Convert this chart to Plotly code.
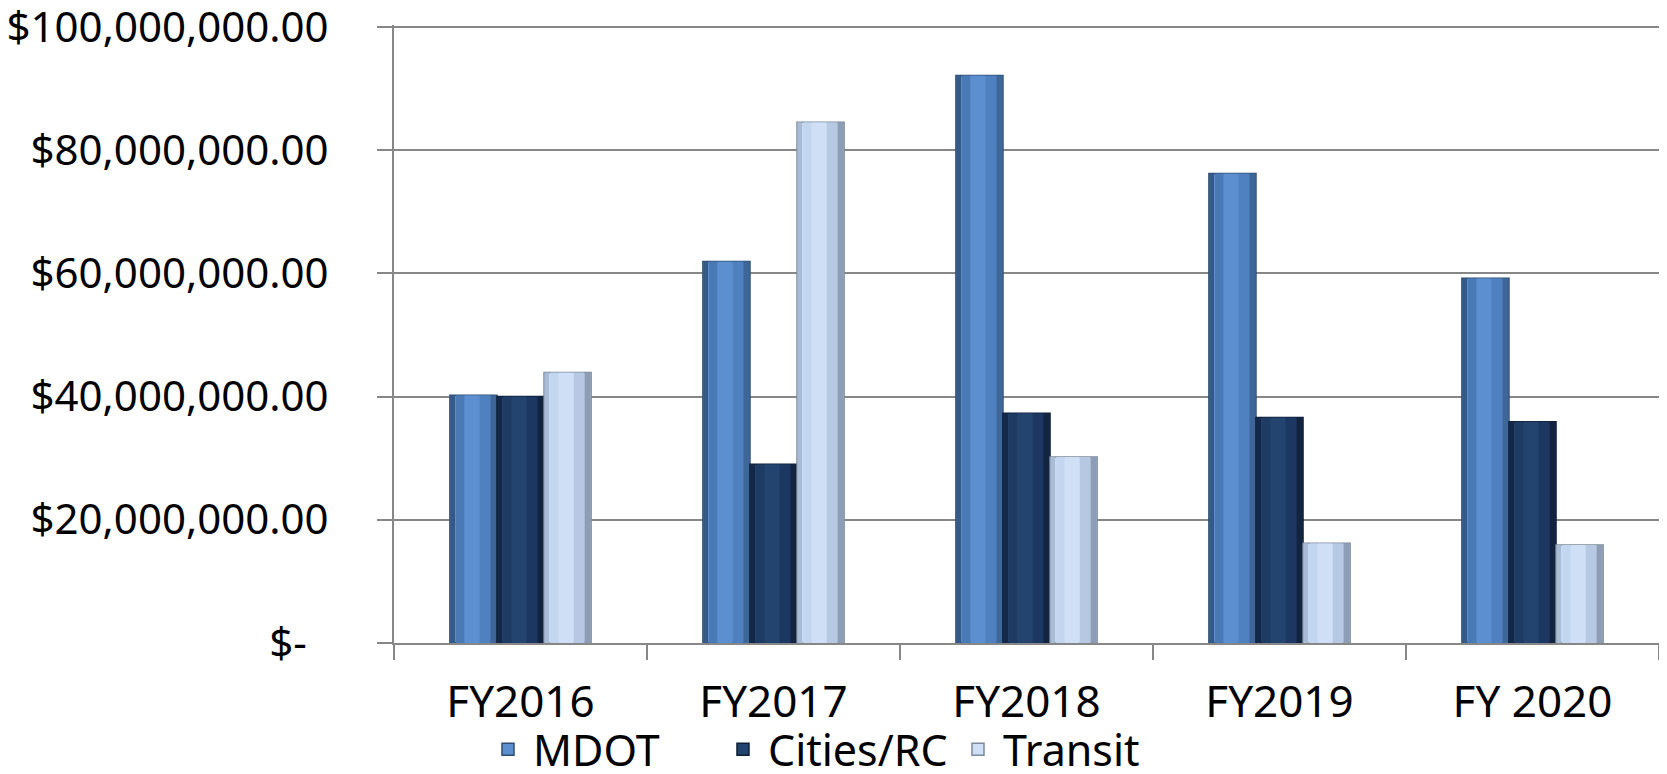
import plotly.graph_objects as go

categories = ["FY2016", "FY2017", "FY2018", "FY2019", "FY 2020"]
mdot = [40.2e6, 61.9e6, 92.1e6, 76.2e6, 59.2e6]
cities = [40.0e6, 29.0e6, 37.3e6, 36.6e6, 35.9e6]
transit = [43.9e6, 84.5e6, 30.2e6, 16.2e6, 15.9e6]
y_tickvals = [0, 20e6, 40e6, 60e6, 80e6, 100e6]
y_ticktext = ["$-\u00a0\u00a0", "$20,000,000.00", "$40,000,000.00", "$60,000,000.00",
              "$80,000,000.00", "$100,000,000.00"]

series = [
    ("MDOT", mdot, ["#355a88", "#4a7ab5", "#5b8fd0", "#4f80bf", "#3e6698"], "#2e4d73"),
    ("Cities/RC", cities, ["#14294a", "#1e3b63", "#23446f", "#1c3862", "#12243f"], "#0f1f36"),
    ("Transit", transit, ["#a9bcd6", "#c3d6ef", "#cfe0f6", "#b7c9e2", "#8c9db5"], "#7d8a9c"),
]

bar_w = 0.186
start = -0.279
fig = go.Figure()
for i, (name, vals, strips, edge) in enumerate(series):
    off = start + i * bar_w
    fig.add_trace(go.Bar(
        name=name, x=categories, y=vals, offset=off, width=bar_w,
        marker=dict(color=strips[2], line=dict(color=edge, width=1.5)),
        showlegend=True, legendrank=i,
    ))
    fracs = [(0.0, 0.12), (0.12, 0.3), (0.3, 0.62), (0.62, 0.85), (0.85, 1.0)]
    for c, (a, b) in zip(strips, fracs):
        fig.add_trace(go.Bar(
            x=categories, y=vals, offset=off + a * bar_w + 0.002,
            width=(b - a) * bar_w - (0.004 if b == 1.0 or a == 0 else 0),
            marker=dict(color=c, line=dict(width=0)),
            showlegend=False, hoverinfo="skip",
        ))

fig.update_layout(
    barmode="overlay",
    width=1659, height=766,
    margin=dict(l=386, r=8, t=17, b=131, autoexpand=False),
    paper_bgcolor="white", plot_bgcolor="white",
    font=dict(family="Noto Sans", size=44, color="black"),
    showlegend=True,
    legend=dict(orientation="h", x=0.349, xanchor="center", y=-0.172, yanchor="middle",
                font=dict(size=43), traceorder="normal", itemwidth=40,
                entrywidth=180, entrywidthmode="pixels",
                bgcolor="rgba(0,0,0,0)", borderwidth=0),
    xaxis=dict(
        type="category", tickson="boundaries", ticks="outside", ticklen=15,
        tickcolor="#878787", tickwidth=2, showline=True, linecolor="#878787",
        linewidth=2, showgrid=False, tickfont=dict(size=44), ticklabelstandoff=19,
        automargin=False,
    ),
    yaxis=dict(
        range=[0, 100.3e6], tickvals=y_tickvals, ticktext=y_ticktext,
        ticks="outside", ticklen=15, tickcolor="#878787", tickwidth=2,
        showline=True, linecolor="#878787", linewidth=2,
        showgrid=True, gridcolor="#878787", gridwidth=2, zeroline=False,
        tickfont=dict(size=42), ticklabelstandoff=40, ticklabeloverflow="allow",
        automargin=False,
    ),
)

fig.write_html("out.html")
